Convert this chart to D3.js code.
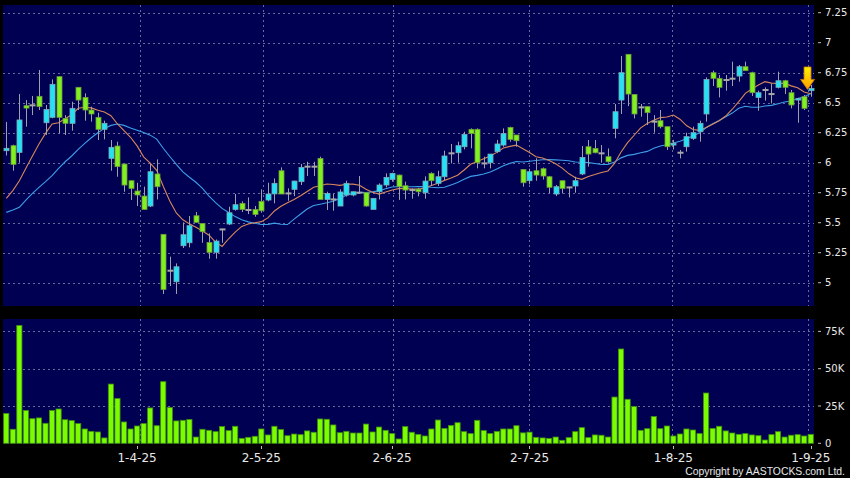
<!DOCTYPE html>
<html><head><meta charset="utf-8">
<script src="https://cdn.jsdelivr.net/npm/d3@7"></script>
<style>html,body{margin:0;padding:0;background:#000;}svg{display:block}</style>
</head><body><svg id="c" width="850" height="478"></svg>
<script>
// ---- data ----
const openP = [6.10,6.142,6.086,6.475,6.478,6.553,6.333,6.378,6.717,6.369,
 6.328,6.628,6.544,6.439,6.378,6.278,6.036,6.139,5.989,5.85,
 5.764,5.722,5.639,5.906,5.403,5.10,5.008,5.308,5.333,5.558,
 5.494,5.336,5.253,5.444,5.489,5.611,5.661,5.606,5.611,5.678,
 5.689,5.74,5.933,5.744,5.778,5.842,5.967,5.967,6.036,5.694,
 5.694,5.639,5.731,5.731,5.75,5.75,5.611,5.758,5.814,5.861,
 5.897,5.808,5.772,5.78,5.75,5.911,5.828,5.883,6.078,6.083,
 6.133,6.278,6.278,5.994,6.0,6.092,6.147,6.294,6.231,5.944,
 5.85,5.933,5.95,5.883,5.739,5.85,5.794,5.806,5.906,6.133,
 6.119,6.078,6.05,6.286,6.522,6.903,6.569,6.461,6.467,6.342,
 6.35,6.30,6.147,6.083,6.133,6.203,6.258,6.406,6.75,6.703,
 6.689,6.70,6.722,6.80,6.75,6.544,6.606,6.572,6.628,6.683,
 6.583,6.522,6.55,6.6];
const highP = [6.34,6.15,6.572,6.522,6.556,6.772,6.481,6.694,6.72,6.397,
 6.508,6.63,6.578,6.467,6.417,6.35,6.189,6.175,5.99,5.85,
 5.833,5.80,5.989,6.028,5.403,5.217,5.161,5.503,5.556,5.589,
 5.494,5.411,5.36,5.45,5.633,5.739,5.678,5.711,5.639,5.778,
 5.833,5.869,5.961,5.786,5.85,5.989,6.008,6.008,6.05,5.758,
 5.739,5.778,5.85,5.76,5.889,5.75,5.703,5.828,5.911,5.917,
 5.90,5.842,5.786,5.79,5.886,5.92,5.933,6.10,6.156,6.175,
 6.258,6.286,6.286,6.05,6.072,6.19,6.286,6.30,6.231,5.944,
 5.95,6.037,5.96,5.89,5.814,5.85,5.80,5.883,6.139,6.189,
 6.189,6.147,6.119,6.489,6.889,6.903,6.57,6.489,6.467,6.397,
 6.439,6.30,6.19,6.106,6.25,6.30,6.35,6.711,6.767,6.731,
 6.731,6.842,6.814,6.842,6.758,6.6,6.628,6.661,6.758,6.69,
 6.606,6.54,6.564,6.647];
const lowP = [6.06,5.933,6.0,6.30,6.397,6.439,6.231,6.37,6.244,6.231,
 6.267,6.439,6.35,6.342,6.189,6.194,5.933,5.883,5.758,5.689,
 5.639,5.606,5.63,5.694,4.906,4.972,4.906,5.289,5.294,5.50,
 5.333,5.2,5.2,5.333,5.48,5.6,5.589,5.572,5.55,5.583,
 5.678,5.661,5.739,5.683,5.722,5.814,5.889,5.889,5.694,5.606,
 5.6,5.639,5.717,5.72,5.744,5.633,5.611,5.694,5.794,5.842,
 5.69,5.694,5.70,5.72,5.70,5.806,5.806,5.856,5.994,6.0,
 6.111,6.12,5.953,5.953,5.953,6.08,6.133,6.175,6.133,5.80,
 5.82,5.85,5.86,5.745,5.722,5.744,5.711,5.75,5.897,5.967,
 6.078,6.0,6.0,6.203,6.406,6.472,6.369,6.383,6.314,6.25,
 6.286,6.106,6.11,6.036,6.092,6.19,6.175,6.342,6.639,6.544,
 6.6,6.639,6.675,6.767,6.556,6.433,6.517,6.494,6.619,6.572,
 6.453,6.333,6.439,6.55];
const closeP = [6.12,5.986,6.356,6.455,6.478,6.467,6.444,6.653,6.378,6.328,
 6.453,6.522,6.439,6.406,6.278,6.328,6.128,5.967,5.814,5.786,
 5.731,5.611,5.925,5.80,4.944,5.10,5.133,5.40,5.475,5.503,
 5.425,5.253,5.347,5.444,5.583,5.65,5.611,5.606,5.569,5.60,
 5.739,5.828,5.739,5.744,5.847,5.961,5.967,5.967,5.694,5.744,
 5.694,5.756,5.828,5.758,5.75,5.639,5.703,5.814,5.878,5.911,
 5.80,5.772,5.772,5.758,5.847,5.85,5.883,6.056,6.078,6.142,
 6.236,6.244,6.0,5.994,6.072,6.156,6.244,6.194,6.183,5.833,
 5.925,5.897,5.889,5.795,5.80,5.786,5.794,5.85,6.044,6.072,
 6.083,6.078,6.008,6.425,6.75,6.572,6.406,6.461,6.417,6.342,
 6.30,6.133,6.162,6.083,6.217,6.25,6.328,6.694,6.703,6.628,
 6.689,6.70,6.80,6.767,6.583,6.583,6.606,6.572,6.683,6.628,
 6.481,6.536,6.453,6.619];
const volumeK = [20,9.4,79,22,16.5,17,13.4,22,23,15.8,
 15.2,13.2,9.6,8,7.6,3.6,39.7,30,14.3,9.6,
 11.6,13.2,23.7,11.8,41.3,24,15,15.4,16,4.2,
 9.4,8.7,7.8,11.2,8.5,11.4,3.3,4,4.7,9.6,
 5.6,11.4,9.2,5.1,6.2,5.8,8.3,7.4,16.3,16.1,
 12.3,7.1,8.0,6.9,6.9,12.9,7.6,10.9,8.7,6.5,
 2.9,11.2,7.4,6.0,4.9,9.6,15.6,10,12,13.8,
 7.8,6.5,15.4,8.5,6.5,8.0,9.6,9.6,11.8,7.0,
 7.5,4.0,3.6,3.2,4.2,2.0,3.8,7.8,10.5,3.8,
 5.6,5.4,4.2,31,63.2,29.5,24.6,8.7,9.8,17.9,
 9.8,11.6,4.9,6.25,9.6,8.9,6.5,33.7,10,11.4,
 8.3,6.9,6.0,6.5,5.6,5.1,2.2,5.8,7.8,4.2,
 5.4,5.8,4.9,6.0];
// moving-average values before enough closes exist in the window
const ma10Early = [5.703,5.767,5.85,5.953,6.056,6.156,6.244,6.322,6.333];
const ma20Early = [5.586,5.606,5.628,5.689,5.744,5.794,5.842,5.892,5.953,6.008,
 6.056,6.111,6.161,6.208,6.25,6.286,6.311,6.322,6.311];
const tickIndex = [20,39,59,80,102,123];
const tickLabels = ["1-4-25","2-5-25","2-6-25","2-7-25","1-8-25","1-9-25"];
const priceTicks = [5,5.25,5.5,5.75,6,6.25,6.5,6.75,7,7.25];
const priceTickLabels = ["5","5.25","5.5","5.75","6","6.25","6.5","6.75","7","7.25"];
const volTicks = [0,25,50,75];
const volTickLabels = ["0","25K","50K","75K"];

// ---- drawing ----
const n = closeP.length;
const svg = d3.select("#c");
const W = 850, H = 478;
const P = {l:3, r:814, pt:5, pb:306, vt:319, vb:443.5};

const x = d3.scaleBand().domain(d3.range(n)).range([P.l, P.r]).padding(0);
const xc = i => x(i) + x.bandwidth()/2;
const xg = d3.scaleLinear().domain([0, n]).range([10.7, 814.2]);
const y = d3.scaleLinear().domain([4.806, 7.314]).range([P.pb, P.pt]);
const yv = d3.scaleLinear().domain([0, 83.3]).range([443.3, P.vt]);

svg.append("rect").attr("width", W).attr("height", H).attr("fill", "#000");
svg.append("rect").attr("x", P.l).attr("y", P.pt).attr("width", P.r-P.l).attr("height", P.pb-P.pt).attr("fill", "#000052");
svg.append("rect").attr("x", P.l).attr("y", P.vt).attr("width", P.r-P.l).attr("height", P.vb-P.vt).attr("fill", "#000052");

const gridCol = "#6a6a9a";
const grid = svg.append("g").attr("stroke", gridCol).attr("stroke-width", 1).attr("stroke-dasharray", "2,3").attr("fill","none");
priceTicks.forEach(t => grid.append("line").attr("x1", P.l).attr("x2", P.r).attr("y1", Math.round(y(t))+0.5).attr("y2", Math.round(y(t))+0.5));
volTicks.filter(t=>t>0).forEach(t => grid.append("line").attr("x1", P.l).attr("x2", P.r).attr("y1", Math.round(yv(t))+0.5).attr("y2", Math.round(yv(t))+0.5));
tickIndex.forEach(i => {
  const gx = Math.round(xg(i))+0.5;
  grid.append("line").attr("x1", gx).attr("x2", gx).attr("y1", P.pt).attr("y2", P.pb);
  grid.append("line").attr("x1", gx).attr("x2", gx).attr("y1", P.vt).attr("y2", P.vb);
});

// moving averages
const ma = (period, early) => closeP.map((c, i) => i < period-1 ? early[i] : d3.mean(closeP.slice(i-period+1, i+1)));
const ma10 = ma(10, ma10Early), ma20 = ma(20, ma20Early);
const line = d3.line().x((d,i) => xc(i)).y(d => y(d));
svg.append("path").attr("d", line(ma20)).attr("fill","none").attr("stroke","#3d9ee8").attr("stroke-width",1.1);
svg.append("path").attr("d", line(ma10)).attr("fill","none").attr("stroke","#d8875a").attr("stroke-width",1.1);

// candles
const bw = 5;
const cg = svg.append("g");
d3.range(n).forEach(i => {
  const o = openP[i], c = closeP[i], h = highP[i], l = lowP[i];
  const cx = Math.round(xc(i)) + 0.5;
  cg.append("line").attr("x1", cx).attr("x2", cx).attr("y1", y(h)).attr("y2", y(l)).attr("stroke", "#a0a0a8").attr("stroke-width", 1);
  const top = y(Math.max(o,c)), bot = y(Math.min(o,c));
  if (o === c) {
    cg.append("rect").attr("x", cx-3).attr("y", top-1).attr("width", 6).attr("height", 2).attr("fill", "#a8a8a8");
  } else {
    const up = c > o;
    cg.append("rect").attr("x", cx-bw/2).attr("y", top).attr("width", bw).attr("height", Math.max(1.5, bot-top))
      .attr("fill", up ? "#22e2f4" : "#80f020").attr("stroke", up ? "#7aaab8" : "#6f9a3a").attr("stroke-width", 0.8);
  }
});

// volume
const vw = 5.2;
svg.append("g").selectAll("rect").data(volumeK).join("rect")
  .attr("x", (d,i) => xc(i)-vw/2).attr("y", d => yv(d)).attr("width", vw).attr("height", d => yv(0)-yv(d))
  .attr("fill", "#7cfc00").attr("stroke", "#3f8f10").attr("stroke-width", 0.8);

// right axes
const ax = svg.append("g").attr("font-family", "DejaVu Sans, sans-serif").attr("font-size", 10).attr("fill", "#e8e8e8");
priceTicks.forEach((t,k) => {
  ax.append("line").attr("x1", 818).attr("x2", 821).attr("y1", y(t)).attr("y2", y(t)).attr("stroke", "#bbb");
  ax.append("text").attr("x", 825).attr("y", y(t)).attr("dy", "0.36em").text(priceTickLabels[k]);
});
volTicks.forEach((t,k) => {
  ax.append("line").attr("x1", 818).attr("x2", 821).attr("y1", yv(t)).attr("y2", yv(t)).attr("stroke", "#bbb");
  ax.append("text").attr("x", 825).attr("y", yv(t)).attr("dy", "0.36em").text(volTickLabels[k]);
});

// bottom axis
const bx = svg.append("g").attr("font-family", "DejaVu Sans, sans-serif").attr("font-size", 12).attr("fill", "#e8e8e8").attr("text-anchor","middle");
tickIndex.forEach((i,k) => {
  const tx = Math.round(xc(i))+0.5;
  bx.append("line").attr("x1", tx).attr("x2", tx).attr("y1", 446).attr("y2", 449).attr("stroke", "#bbb");
  bx.append("text").attr("x", xc(i)).attr("y", 462).text(tickLabels[k]);
});

svg.append("text").attr("x", 845).attr("y", 475).attr("text-anchor","end")
  .attr("font-family","Liberation Sans, Arial, sans-serif").attr("font-size", 10.4).attr("fill","#e8e8e8")
  .text("Copyright by AASTOCKS.com Ltd.");

// latest-price arrow
const defs = svg.append("defs");
const gr = defs.append("linearGradient").attr("id","ag").attr("x1",0).attr("y1",0).attr("x2",0).attr("y2",1);
gr.append("stop").attr("offset","0").attr("stop-color","#fff200");
gr.append("stop").attr("offset","1").attr("stop-color","#ff9c00");
const tx = xc(n-1) - 3.2, ty = y(closeP[n-1]) + 1;
const pts = [[tx-3.5,ty-22.5],[tx+3.5,ty-22.5],[tx+3.5,ty-10],[tx+7,ty-10],[tx,ty],[tx-7,ty-10],[tx-3.5,ty-10]];
svg.append("path").attr("d", "M" + pts.map(p => p.join(",")).join("L") + "Z")
  .attr("fill","url(#ag)").attr("stroke","#c87800").attr("stroke-width",0.8);
</script>
</body></html>
